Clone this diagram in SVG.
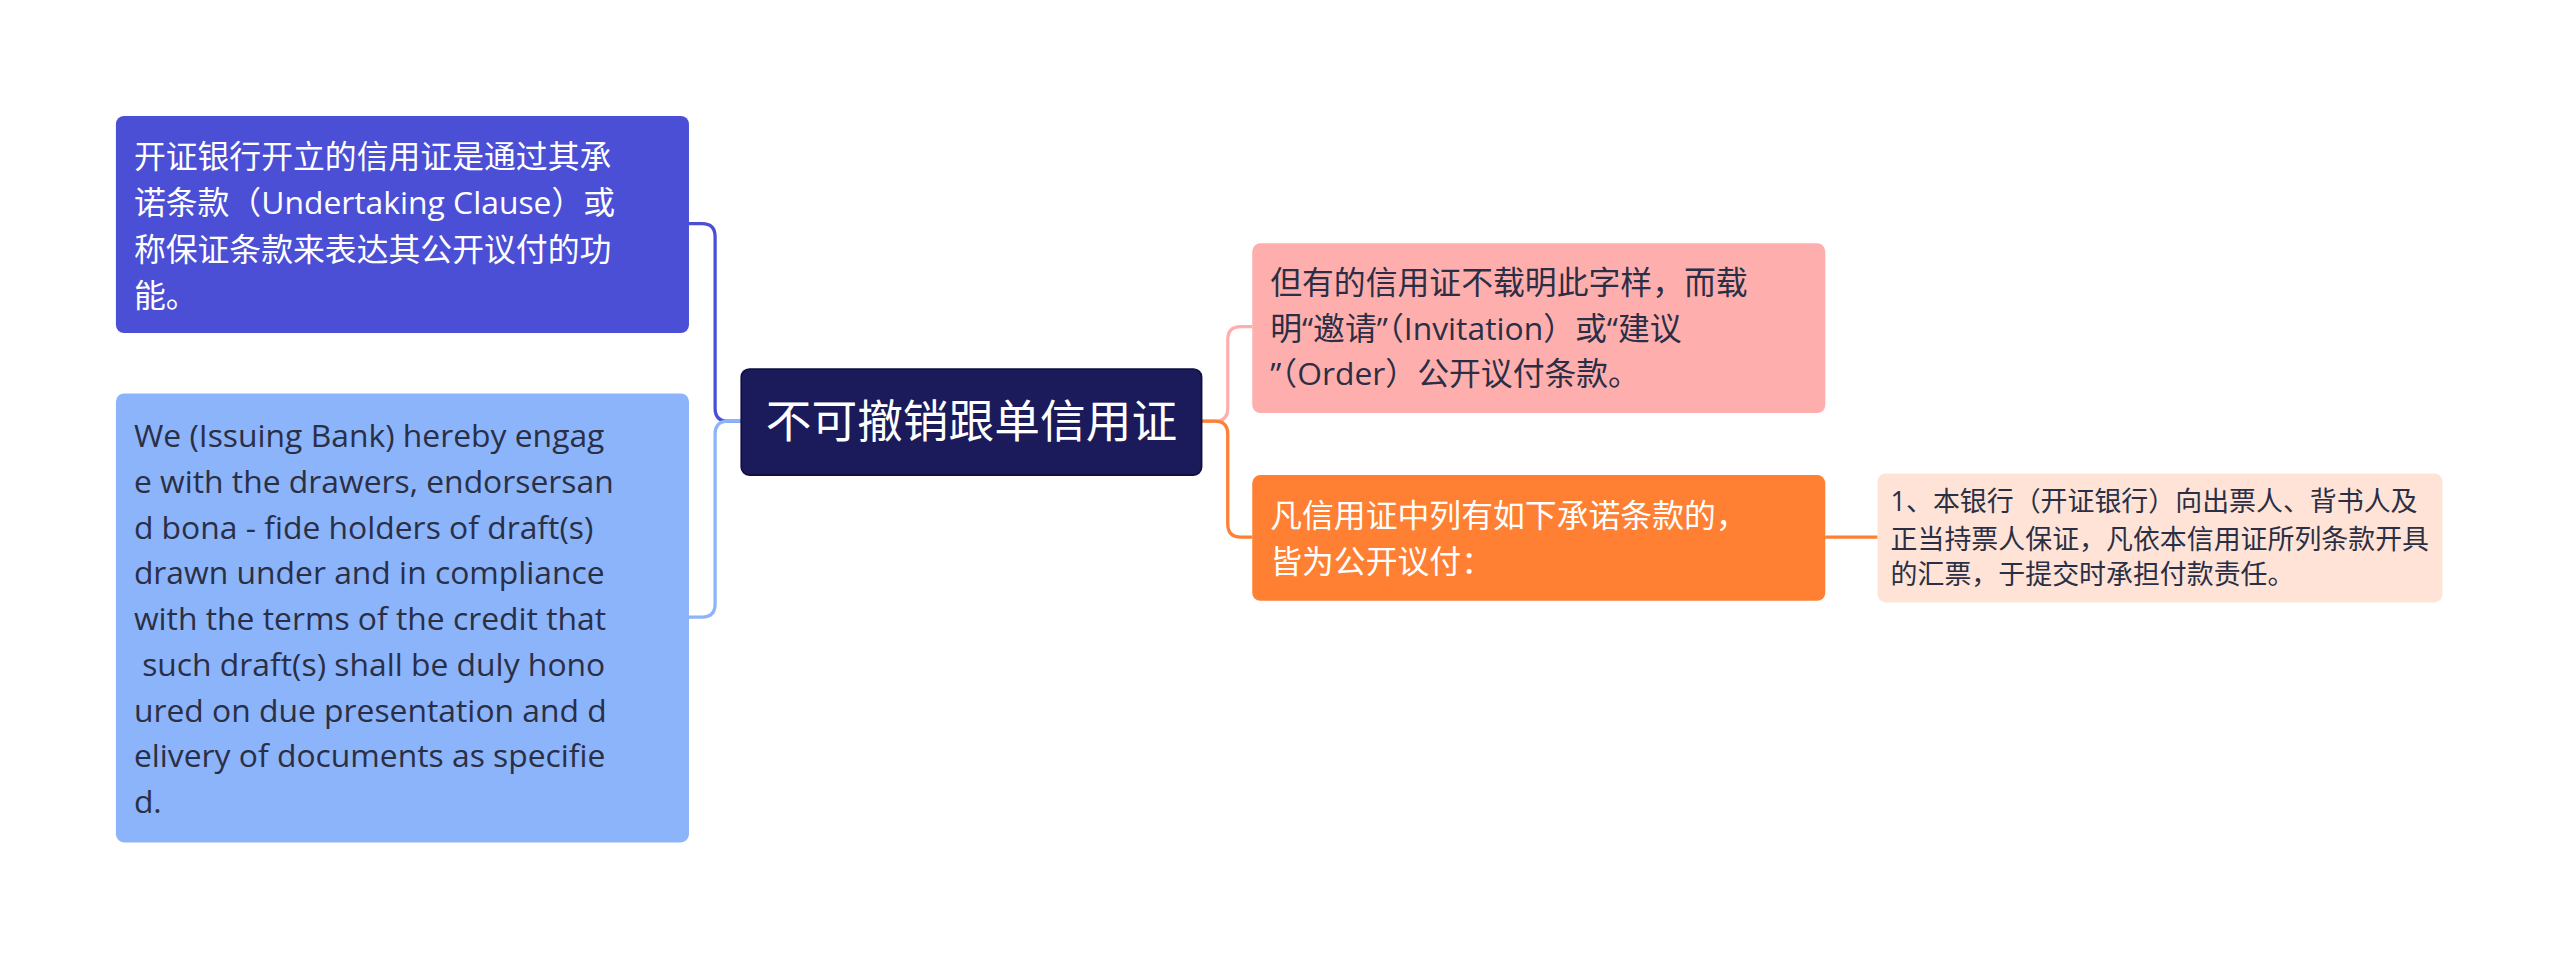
<svg xmlns="http://www.w3.org/2000/svg" width="2560" height="960" viewBox="0 0 2560 960">
<style>
text{font-family:"Open Sans","Noto Sans CJK SC",sans-serif;font-size:19.5px}
.w{fill:#ffffff}.d{fill:#2b2f45}
.c{fill:none;stroke-width:2}
</style>
<rect width="2560" height="960" fill="#ffffff"/>
<g transform="scale(1.63265)">
<g id="connectors">
<path class="c" stroke="#4b4fd6" d="M454,258 H446 Q438,258 438,250 V145 Q438,137 430,137 H422"/>
<path class="c" stroke="#8cb4fb" d="M454,258 H446 Q438,258 438,266 V370 Q438,378 430,378 H422"/>
<path class="c" stroke="#ffaeae" d="M736,258 H744 Q752,258 752,250 V208 Q752,200 760,200 H767"/>
<path class="c" stroke="#ff7f33" d="M736,258 H744 Q752,258 752,266 V321 Q752,329 760,329 H767"/>
<path class="c" stroke="#ff7f33" d="M1118,329 H1150"/>
</g>
<g id="center">
<rect x="454" y="226" width="282" height="65" rx="5" fill="#1b1a5a" stroke="#0f0f40"/>
<text class="w" x="595" y="268" text-anchor="middle" style="font-size:28px">不可撤销跟单信用证</text>
</g>
<g id="left-top">
<rect x="71" y="71" width="351" height="133" rx="5" fill="#4b4fd6"/>
<text class="w"><tspan x="82" y="103">开证银行开立的信用证是通过其承</tspan><tspan x="82" y="131">诺条款（Undertaking Clause）或</tspan><tspan x="82" y="160">称保证条款来表达其公开议付的功</tspan><tspan x="82" y="188">能。</tspan></text>
</g>
<g id="left-bottom">
<rect x="71" y="241" width="351" height="275" rx="5" fill="#8cb4fb"/>
<text class="d"><tspan x="82" y="274">We (Issuing Bank) hereby engag</tspan><tspan x="82" y="302">e with the drawers, endorsersan</tspan><tspan x="82" y="330">d bona - fide holders of draft(s)</tspan><tspan x="82" y="358">drawn under and in compliance</tspan><tspan x="82" y="386">with the terms of the credit that</tspan><tspan x="82" y="414"> such draft(s) shall be duly hono</tspan><tspan x="82" y="442">ured on due presentation and d</tspan><tspan x="82" y="470">elivery of documents as specifie</tspan><tspan x="82" y="498">d.</tspan></text>
</g>
<g id="right-top">
<rect x="767" y="149" width="351" height="104" rx="5" fill="#ffaeae"/>
<text class="d"><tspan x="778" y="180">但有的信用证不载明此字样，而载</tspan><tspan x="778" y="208">明“邀请”（Invitation）或“建议</tspan><tspan x="778" y="236">”（Order）公开议付条款。</tspan></text>
</g>
<g id="right-mid">
<rect x="767" y="291" width="351" height="77" rx="5" fill="#ff7f33"/>
<text class="w"><tspan x="778" y="323">凡信用证中列有如下承诺条款的，</tspan><tspan x="778" y="351">皆为公开议付：</tspan></text>
</g>
<g id="far-right">
<rect x="1150" y="290" width="346" height="79" rx="5" fill="#ffe3d6"/>
<text class="d" style="font-size:16.5px"><tspan x="1158" y="313">1、本银行（开证银行）向出票人、背书人及</tspan><tspan x="1158" y="336">正当持票人保证，凡依本信用证所列条款开具</tspan><tspan x="1158" y="358">的汇票，于提交时承担付款责任。</tspan></text>
</g>
</g>
</svg>
